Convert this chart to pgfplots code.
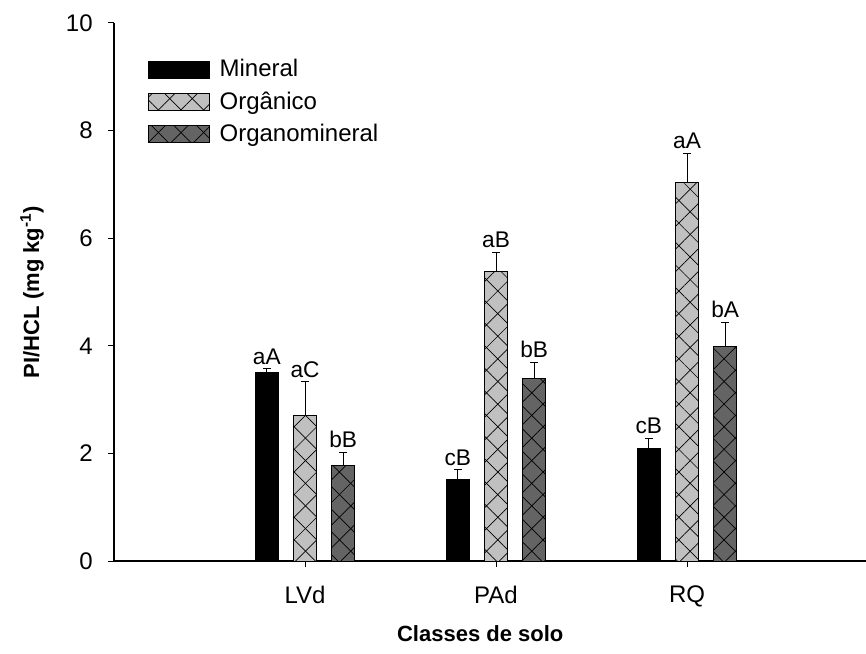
\documentclass[border=0pt]{standalone}
\usepackage{fontspec}
\setmainfont{Liberation Sans}
\usepackage{pgfplots}
\pgfplotsset{compat=1.18}
\usepackage{pgfplotstable}
\usetikzlibrary{patterns.meta}

\definecolor{orgc}{RGB}{192,192,192}
\definecolor{omc}{RGB}{100,100,100}

\pgfplotstableread{
x y err lab
1 3.50 0.07 aA
2 1.51 0.19 cB
3 2.09 0.19 cB
}\mineral
\pgfplotstableread{
x y err lab
1 2.71 0.62 aC
2 5.39 0.35 aB
3 7.03 0.55 aA
}\organico
\pgfplotstableread{
x y err lab
1 1.77 0.25 bB
2 3.40 0.29 bB
3 3.98 0.46 bA
}\organomin

\tikzset{
  xh/.style={
    postaction={pattern={Lines[angle=45,distance=12pt,line width=0.5pt]}},
    postaction={pattern={Lines[angle=-45,distance=12pt,line width=0.5pt]}}
  }
}

\pgfplotsset{
  ebar/.style={error bars/.cd, y dir=plus, y explicit,
    error bar style={line width=0.75pt, black},
    error mark options={rotate=90, mark size=3pt, line width=0.75pt, black}},
  lbl/.style={draw=none, mark=none, forget plot, nodes near coords, point meta=explicit symbolic,
    nodes near coords style={font=\fontsize{17}{17}\selectfont, anchor=south, inner sep=1pt, yshift=2pt, black}}
}

\begin{document}
\begin{tikzpicture}
\begin{axis}[
  scale only axis, width=564pt, height=403.5pt,
  xmin=0, xmax=3.937, ymin=0, ymax=10,
  axis x line*=bottom, axis y line*=left,
  axis line style={line width=1.5pt,-},
  xtick={1,2,3}, xticklabels={LVd,PAd,RQ},
  ytick={0,2,4,6,8,10},
  tick align=outside, major tick length=4.5pt,
  tick style={line width=0.75pt, black},
  minor tick num=0,
  ticklabel style={font=\fontsize{18}{18}\selectfont},
  yticklabel style={xshift=-8pt},
  xticklabel style={yshift=-10.5pt},
  /pgf/number format/assume math mode=true,
  xlabel={Classes de solo},
  ylabel={PI/HCL (mg kg\textsuperscript{-1})},
  label style={font=\bfseries\fontsize{16.5}{16.5}\selectfont},
  xlabel style={at={(axis description cs:0.487,-0.1357)}, anchor=center},
  ylabel style={at={(axis description cs:-0.109,0.5)}, anchor=center},
  legend image code/.code={\draw[#1] (0pt,-6.75pt) rectangle (45.75pt,5.75pt);},
  legend style={at={(axis description cs:0.0452,0.935)}, anchor=north west,
    draw=none, fill=none, font=\fontsize{18}{18}\selectfont,
    row sep=7.5pt, column sep=6pt, inner sep=0pt,
    nodes={inner sep=1pt}},
  legend cell align=left,
  clip=false,
]
\addplot[ybar, bar width=17.6pt, bar shift=0pt, fill=black, draw=black, line width=0.75pt, ebar]
  table[x expr=\thisrow{x}-0.2, y=y, y error=err]{\mineral};
\addlegendentry{Mineral}
\addplot[ybar, bar width=17.6pt, bar shift=0pt, fill=orgc, draw=black, line width=0.75pt, xh, ebar]
  table[x=x, y=y, y error=err]{\organico};
\addlegendentry{Orgânico}
\addplot[ybar, bar width=17.6pt, bar shift=0pt, fill=omc, draw=black, line width=0.75pt, xh, ebar]
  table[x expr=\thisrow{x}+0.2, y=y, y error=err]{\organomin};
\addlegendentry{Organomineral}

\addplot[lbl] table[x expr=\thisrow{x}-0.2, y expr=\thisrow{y}+\thisrow{err}, meta=lab]{\mineral};
\addplot[lbl] table[x=x, y expr=\thisrow{y}+\thisrow{err}, meta=lab]{\organico};
\addplot[lbl] table[x expr=\thisrow{x}+0.2, y expr=\thisrow{y}+\thisrow{err}, meta=lab]{\organomin};
\end{axis}
\pgfresetboundingbox
\path (-85.5pt,-69pt) rectangle (564pt,420.75pt);
\end{tikzpicture}
\end{document}
